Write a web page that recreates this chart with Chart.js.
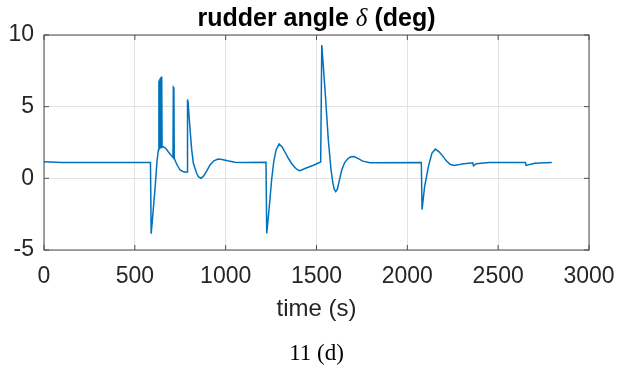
<!DOCTYPE html>
<html>
<head>
<meta charset="utf-8">
<script src="https://cdn.jsdelivr.net/npm/chart.js@4.4.0/dist/chart.umd.min.js"></script>
<style>
  html, body { margin: 0; padding: 0; background: #fff; }
</style>
</head>
<body>
<canvas id="rudder" width="628" height="369"></canvas>
<script>
var ctx = document.getElementById('rudder')

// time (s) and rudder angle (deg)
const times = [0, 100, 586, 590, 600, 612, 622, 630, 632, 633, 636, 637, 640, 641, 644, 645, 648, 650,
  657, 670, 684, 700, 710, 712, 715, 717, 730, 749, 765, 782, 788, 790, 793, 804, 813, 822, 840, 850,
  864, 878, 895, 915, 935, 958, 980, 1010, 1050, 1100, 1222, 1226, 1240, 1253, 1265, 1278, 1294, 1310,
  1330, 1345, 1365, 1385, 1400, 1409, 1440, 1480, 1523, 1529, 1547, 1565, 1580, 1590, 1597, 1606, 1615,
  1625, 1639, 1655, 1675, 1690, 1707, 1730, 1755, 1795, 2077, 2081, 2095, 2116, 2135, 2154, 2175, 2195,
  2215, 2235, 2258, 2280, 2300, 2360, 2364, 2380, 2450, 2650, 2654, 2700, 2795]
const angles = [1.15, 1.1, 1.1, -3.87, -2.4, -0.6, 1.2, 2.0, 6.8, 2.0, 6.9, 2.05, 7.0, 2.1, 7.05, 2.15, 7.1, 2.2,
  2.2, 2.1, 1.86, 1.6, 1.45, 6.35, 6.3, 1.4, 1.0, 0.58, 0.48, 0.42, 0.45, 5.5, 5.3, 3.4, 2.0, 1.07, 0.35, 0.12,
  0.0, 0.15, 0.5, 0.95, 1.22, 1.34, 1.32, 1.22, 1.12, 1.1, 1.12, -3.84, -2.0, -0.1, 1.2, 2.0, 2.39, 2.2,
  1.75, 1.4, 1.0, 0.7, 0.56, 0.53, 0.7, 0.9, 1.14, 9.3, 6.16, 2.67, 0.58, -0.3, -0.75, -0.93, -0.75,
  -0.2, 0.58, 1.1, 1.4, 1.5, 1.52, 1.38, 1.2, 1.08, 1.1, -2.18, -0.6, 0.82, 1.75, 2.04, 1.85, 1.55,
  1.22, 0.98, 0.89, 0.94, 1.0, 1.08, 0.88, 1.02, 1.1, 1.1, 0.9, 1.05, 1.1]

const xRange = [0, 3000]
const yRange = [-5, 10]
const xStep = 500
const yStep = 5

const titleParts = ['rudder angle ', 'δ', ' (deg)']
const xTitle = 'time (s)'
const caption = '11 (d)'

const points = times.map((t, i) => ({ x: t, y: angles[i] }))

// matlab style box, inner ticks, title with italic delta and the caption
const frame = {
  id: 'frame',
  afterDraw(chart) {
    const c = chart.ctx
    const a = chart.chartArea
    const sx = chart.scales.x
    const sy = chart.scales.y
    c.save()
    c.strokeStyle = '#4d4d4d'
    c.lineWidth = 1
    c.strokeRect(a.left, a.top, a.right - a.left, a.bottom - a.top)
    c.beginPath()
    sx.ticks.forEach(t => {
      const px = sx.getPixelForValue(t.value)
      c.moveTo(px, a.bottom); c.lineTo(px, a.bottom - 5)
      c.moveTo(px, a.top); c.lineTo(px, a.top + 5)
    })
    sy.ticks.forEach(t => {
      const py = sy.getPixelForValue(t.value)
      c.moveTo(a.left, py); c.lineTo(a.left + 5, py)
      c.moveTo(a.right, py); c.lineTo(a.right - 5, py)
    })
    c.stroke()

    const fonts = ['bold 25px "Liberation Sans"', 'italic 25px "Liberation Serif"', 'bold 25px "Liberation Sans"']
    let widths = titleParts.map((s, i) => { c.font = fonts[i]; return c.measureText(s).width })
    let total = widths.reduce((p, q) => p + q, 0)
    let x = (a.left + a.right) / 2 - total / 2
    c.fillStyle = '#000'
    c.textBaseline = 'alphabetic'
    c.textAlign = 'left'
    titleParts.forEach((s, i) => {
      c.font = fonts[i]
      c.fillText(s, x, 26)
      x += widths[i]
    })

    c.font = '23px "Liberation Serif"'
    c.textAlign = 'center'
    c.textBaseline = 'middle'
    c.fillText(caption, (a.left + a.right) / 2, 354)
    c.restore()
  }
}

new Chart(ctx, {
  type: 'line',
  data: {
    datasets: [{
      data: points,
      borderColor: '#0072BD',
      borderWidth: 1.5,
      pointRadius: 0,
      tension: 0,
      fill: false
    }]
  },
  options: {
    responsive: false,
    animation: false,
    layout: { padding: { top: 35, right: 39, bottom: 39, left: 0 } },
    plugins: { legend: { display: false }, tooltip: { enabled: false } },
    scales: {
      x: {
        type: 'linear',
        min: xRange[0],
        max: xRange[1],
        afterFit: s => { s.height = 80 },
        ticks: { stepSize: xStep, padding: 13, color: '#262626', callback: v => String(v),
          font: { family: 'Liberation Sans', size: 23 } },
        grid: { color: '#e2e2e2', drawTicks: false },
        border: { display: false },
        title: { display: true, text: xTitle, color: '#262626', padding: { top: 0, bottom: 6 },
          font: { family: 'Liberation Sans', size: 24 } }
      },
      y: {
        min: yRange[0],
        max: yRange[1],
        afterFit: s => { s.width = 44 },
        ticks: { stepSize: yStep, padding: 10, color: '#262626', callback: v => String(v),
          font: { family: 'Liberation Sans', size: 23 } },
        grid: { color: '#e2e2e2', drawTicks: false },
        border: { display: false }
      }
    }
  },
  plugins: [frame]
})
</script>
</body>
</html>
